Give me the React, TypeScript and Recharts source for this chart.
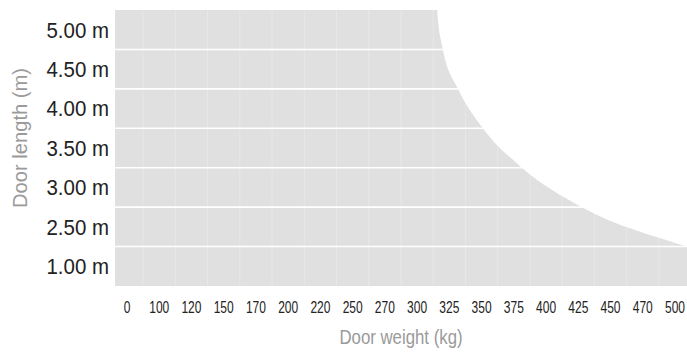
import React from "react";
import { ComposedChart, Area, XAxis, YAxis, ReferenceLine } from "recharts";

// door weight categories along the bottom
const weightLabels = ["0", "100", "120", "150", "170", "200", "220", "250", "270", "300", "325", "350", "375", "400", "425", "450", "470", "500"];
// door length rows, bottom to top
const lengthLabels = ["1.00 m", "2.50 m", "3.00 m", "3.50 m", "4.00 m", "4.50 m", "5.00 m"];

// edge of the allowed zone: weight position (category index) vs number of rows covered
const edgeWeight = [-1, 9.57, 9.62, 9.8, 10.27, 11.04, 12.25, 14.11, 17.37, 18.5];
const edgeRows = [8, 8, 7, 6, 5, 4, 3, 2, 1, 0.7];

const data = edgeWeight.map((x, i) => ({ x, rows: edgeRows[i] }));

const font = "'Liberation Sans', Arial, sans-serif";

const rowLines = lengthLabels.slice(1).map((_, i) => i + 1);
const colLines = weightLabels.slice(1).map((_, i) => i + 0.5);

// condensed look: squeeze the text horizontally around its anchor
const squeeze = (x: number, s: number) => `translate(${x},0) scale(${s},1) translate(${-x},0)`;

const YTick = ({ x, y, payload }: any) => (
    <text x={x} y={y} dy="0.355em" textAnchor="end" fill="#222" fontSize={22} fontFamily={font}
        transform={squeeze(x, 0.93)}>
        {lengthLabels[Math.floor(payload.value)]}
    </text>
);

const XTick = ({ x, y, payload }: any) => (
    <text x={x} y={y} dy="0.71em" textAnchor="middle" fill="#222" fontSize={16} fontFamily={font}
        transform={squeeze(x, 0.75)}>
        {weightLabels[payload.value]}
    </text>
);

const YTitle = ({ viewBox }: any) => {
    const x = viewBox.x + 27;
    const y = viewBox.y + viewBox.height / 2 - 10;
    return (
        <text x={0} y={0} transform={`translate(${x}, ${y}) rotate(-90) scale(0.96,1)`} textAnchor="middle"
            fill="#9a9a9a" fontSize={21} fontFamily={font}>
            Door length (m)
        </text>
    );
};

const XTitle = ({ viewBox }: any) => {
    const x = viewBox.x + viewBox.width / 2;
    const y = viewBox.y + viewBox.height - 16;
    return (
        <text x={x} y={y} textAnchor="middle" fill="#9a9a9a" fontSize={21} fontFamily={font}
            transform={squeeze(x, 0.8)}>
            Door weight (kg)
        </text>
    );
};

const App = () => {
    return (
        <div style={{ position: "absolute", left: 0, top: 0 }}>
            <ComposedChart width={687} height={360} data={data}
                margin={{ top: 10, right: 0, bottom: 0, left: 0 }}>
                <XAxis dataKey="x" type="number" domain={[-0.372, 17.372]} allowDataOverflow
                    ticks={weightLabels.map((_, i) => i)} interval={0}
                    height={74} axisLine={false} tickLine={false} tickSize={6} tickMargin={10}
                    tick={<XTick />}
                    label={{ content: XTitle }} />
                <YAxis type="number" domain={[0, 7]} allowDataOverflow
                    ticks={lengthLabels.map((_, i) => i + 0.5)} interval={0}
                    width={115} axisLine={false} tickLine={false} tickSize={6} tickMargin={0}
                    tick={<YTick />}
                    label={{ content: YTitle }} />
                <Area dataKey="rows" type="monotone" stroke="none" fill="#e0e0e0" fillOpacity={1}
                    isAnimationActive={false} />
                {colLines.map((c) => (
                    <ReferenceLine key={"c" + c} x={c} stroke="#ffffff" strokeOpacity={0.25} strokeWidth={1} />
                ))}
                {rowLines.map((r) => (
                    <ReferenceLine key={"r" + r} y={r} stroke="#ffffff" strokeWidth={1.6} />
                ))}
            </ComposedChart>
        </div>
    );
};

export default App;
